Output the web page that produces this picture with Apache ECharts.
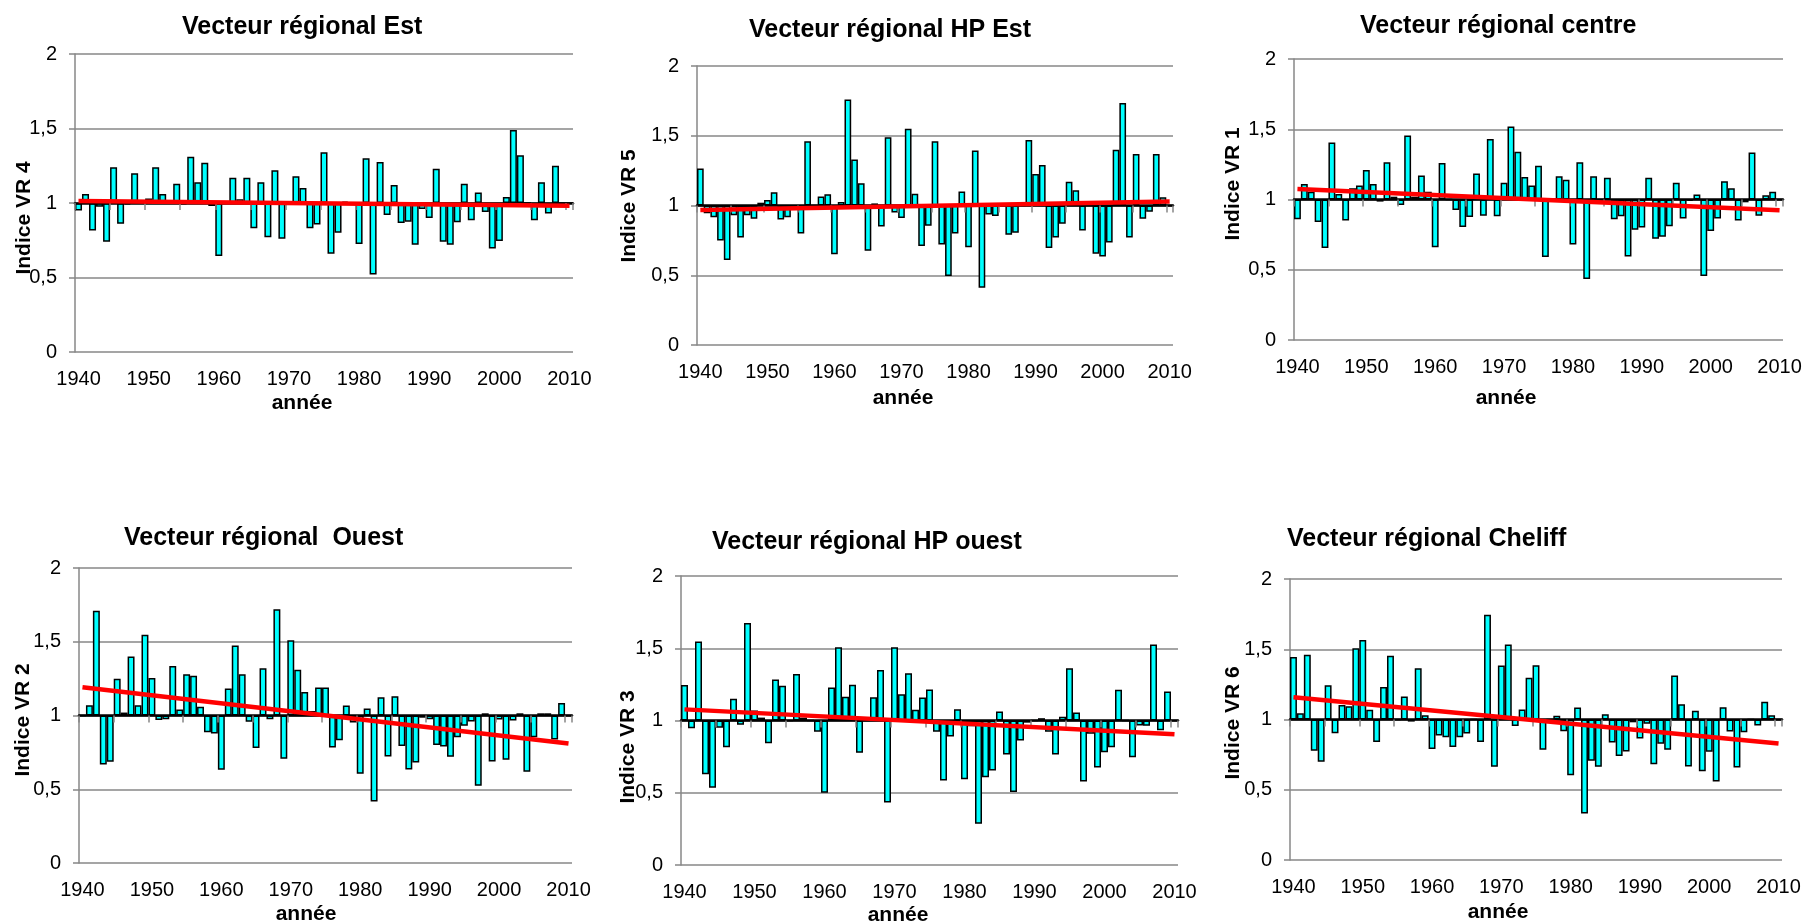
<!DOCTYPE html>
<html>
<head>
<meta charset="utf-8">
<script src="https://cdn.jsdelivr.net/npm/echarts@6/dist/echarts.min.js"></script>
<style>
html,body{margin:0;padding:0;background:#fff;}
#chart{width:1807px;height:922px;}
</style>
</head>
<body>
<div id="chart"></div>
<script>
// ---- data ----
const years = ['1940','1941','1942','1943','1944','1945','1946','1947','1948','1949',
 '1950','1951','1952','1953','1954','1955','1956','1957','1958','1959',
 '1960','1961','1962','1963','1964','1965','1966','1967','1968','1969',
 '1970','1971','1972','1973','1974','1975','1976','1977','1978','1979',
 '1980','1981','1982','1983','1984','1985','1986','1987','1988','1989',
 '1990','1991','1992','1993','1994','1995','1996','1997','1998','1999',
 '2000','2001','2002','2003','2004','2005','2006','2007','2008','2009','2010'];

const yTickValues = [0, 0.5, 1, 1.5, 2];

const vrEst = [0.95,1.06,0.815,0.975,0.74,1.24,0.86,0.99,1.20,1.0,
 1.03,1.24,1.06,1.0,1.13,0.99,1.31,1.14,1.27,0.98,
 0.645,1.0,1.17,1.025,1.17,0.83,1.14,0.77,1.22,0.76,
 1.0,1.18,1.10,0.83,0.855,1.34,0.66,0.80,1.01,1.0,
 0.725,1.30,0.52,1.275,0.92,1.12,0.865,0.875,0.72,0.96,
 0.90,1.23,0.74,0.72,0.87,1.13,0.885,1.07,0.94,0.695,
 0.745,1.04,1.49,1.32,1.0,0.885,1.14,0.93,1.25,1.0,1.0];

const vrHPEst = [1.265,0.945,0.915,0.75,0.61,0.93,0.77,0.93,0.905,1.02,
 1.04,1.095,0.90,0.915,0.99,0.80,1.46,1.0,1.065,1.08,
 0.65,1.025,1.76,1.33,1.16,0.675,1.015,0.85,1.49,0.95,
 0.91,1.55,1.085,0.71,0.855,1.46,0.72,0.495,0.80,1.10,
 0.70,1.395,0.41,0.935,0.925,1.0,0.79,0.805,1.0,1.47,
 1.225,1.29,0.695,0.77,0.87,1.17,1.11,0.82,1.0,0.655,
 0.635,0.735,1.40,1.735,0.77,1.37,0.905,0.955,1.37,1.06,1.0];

const vrCentre = [0.86,1.11,1.055,0.84,0.655,1.405,1.04,0.85,1.08,1.10,
 1.21,1.11,0.985,1.265,1.02,0.96,1.455,1.02,1.17,1.055,
 0.66,1.26,1.0,0.925,0.805,0.875,1.185,0.885,1.43,0.88,
 1.12,1.52,1.34,1.16,1.10,1.24,0.59,1.0,1.165,1.14,
 0.68,1.265,0.435,1.165,1.0,1.155,0.86,0.88,0.595,0.785,
 0.80,1.155,0.72,0.735,0.81,1.12,0.865,0.99,1.035,0.455,
 0.775,0.865,1.13,1.08,0.85,0.98,1.335,0.885,1.03,1.055,1.0];

const vrOuest = [1.0,1.07,1.71,0.668,0.686,1.25,1.02,1.40,1.07,1.547,
 1.255,0.97,0.975,1.335,1.04,1.28,1.27,1.06,0.887,0.878,
 0.632,1.183,1.475,1.28,0.957,0.78,1.32,0.975,1.72,0.706,
 1.51,1.31,1.16,1.03,1.19,1.19,0.783,0.833,1.068,0.953,
 0.605,1.047,0.417,1.124,0.722,1.131,0.794,0.634,0.681,0.985,
 0.975,0.80,0.79,0.72,0.853,0.93,0.96,0.523,1.015,0.688,
 0.973,0.70,0.966,1.015,0.618,0.853,1.015,1.015,0.837,1.084,1.0];

const vrHPOuest = [1.245,0.946,1.547,0.628,0.535,0.95,0.815,1.15,0.97,1.675,
 1.07,1.02,0.843,1.283,1.24,1.0,1.322,1.02,1.0,0.923,
 0.50,1.229,1.507,1.164,1.248,0.776,1.0,1.161,1.35,0.432,
 1.507,1.182,1.327,1.075,1.159,1.215,0.923,0.584,0.89,1.077,
 0.593,0.96,0.285,0.607,0.654,1.063,0.764,0.505,0.862,0.985,
 1.0,1.016,0.923,0.764,1.026,1.362,1.056,0.577,0.909,0.675,
 0.78,0.815,1.213,1.0,0.745,0.965,0.963,1.526,0.932,1.20,1.0];

const vrCheliff = [1.444,1.045,1.46,0.777,0.70,1.244,0.903,1.104,1.095,1.508,
 1.565,1.069,0.839,1.232,1.453,1.0,1.164,0.985,1.365,1.03,
 0.79,0.886,0.874,0.805,0.874,0.90,1.0,0.84,1.745,0.663,
 1.384,1.534,0.953,1.071,1.297,1.387,0.784,1.0,1.026,0.917,
 0.604,1.085,0.331,0.706,0.663,1.038,0.836,0.741,0.772,0.98,
 0.865,0.97,0.682,0.827,0.784,1.313,1.109,0.665,1.062,0.632,
 0.77,0.559,1.088,0.915,0.658,0.91,1.0,0.957,1.126,1.03,1.0];

// linear trend lines: value at 1940 and at 2010
const trendEst = [1.013, 0.982];
const trendHPEst = [0.967, 1.029];
const trendCentre = [1.074, 0.924];
const trendOuest = [1.192, 0.81];
const trendHPOuest = [1.077, 0.904];
const trendCheliff = [1.159, 0.829];

const titles = ['Vecteur régional Est','Vecteur régional HP Est','Vecteur régional centre',
  'Vecteur régional  Ouest','Vecteur régional HP ouest','Vecteur régional Cheliff'];
const yNames = ['Indice VR 4','Indice VR 5','Indice VR 1','Indice VR 2','Indice VR 3','Indice VR 6'];
const xName = 'année';

const seriesValues = [vrEst, vrHPEst, vrCentre, vrOuest, vrHPOuest, vrCheliff];
const trends = [trendEst, trendHPEst, trendCentre, trendOuest, trendHPOuest, trendCheliff];

// ---- layout ----
const gridsLayout = [
  {left:75, top:54, width:498, height:298},
  {left:697, top:66, width:476, height:279},
  {left:1294, top:59, width:489, height:281},
  {left:79, top:568, width:493, height:295},
  {left:681, top:576, width:497, height:289},
  {left:1290, top:579, width:492, height:281}
];
const titlePos = [[182,27],[749,30],[1360,26],[124,538],[712,542],[1287,539]];
const yNamePos = [[24,218],[629,206],[1233,184],[23,720],[628,747],[1233,723]];
const xNamePos = [[302,403],[903,398],[1506,398],[306,914],[898,915],[1498,912]];

const FONT = '"Liberation Sans", Arial, sans-serif';
const GREY = '#878787';
const BASE = 1; // bars start from index value 1

const fmt = v => String(Math.round((v + BASE) * 10) / 10).replace('.', ',');

const option = {
  animation: false,
  backgroundColor: '#ffffff',
  grid: [], xAxis: [], yAxis: [], series: [], graphic: []
};

for (let g = 0; g < 6; g++) {
  option.grid.push(Object.assign({containLabel: false}, gridsLayout[g]));
  // axis crossing at 1 (black line + ticks)
  option.xAxis.push({
    type: 'category', gridIndex: g, data: years, boundaryGap: true, z: 5,
    axisLine: {show: true, onZero: true, lineStyle: {color: '#000', width: 2.5}},
    axisTick: {show: true, interval: 4, alignWithLabel: false, length: 7, lineStyle: {color: GREY, width: 1.5}},
    axisLabel: {show: false}, splitLine: {show: false}
  });
  // label axis at bottom
  option.xAxis.push({
    type: 'category', gridIndex: g, data: years, boundaryGap: true, position: 'bottom',
    axisLine: {show: false, onZero: false}, axisTick: {show: false},
    axisLabel: {show: true, interval: 9, margin: 17, color: '#000', fontSize: 20, fontFamily: FONT},
    splitLine: {show: false}
  });
  option.yAxis.push({
    type: 'value', gridIndex: g, min: yTickValues[0] - BASE, max: yTickValues[yTickValues.length-1] - BASE, interval: 0.5,
    axisLine: {show: true, lineStyle: {color: GREY, width: 1.5}},
    axisTick: {show: true, length: 6, lineStyle: {color: GREY, width: 1.5}},
    axisLabel: {show: true, margin: 18, color: '#000', fontSize: 20, fontFamily: FONT, formatter: fmt},
    splitLine: {show: true, lineStyle: {color: GREY, width: 1.5}}
  });
  option.series.push({
    type: 'bar', xAxisIndex: 2*g, yAxisIndex: g, barCategoryGap: '0%', z: 2,
    data: seriesValues[g].map(v => +(v - BASE).toFixed(4)),
    itemStyle: {color: '#00FFFF', borderColor: '#000', borderWidth: 1.5}
  });
  option.series.push({
    type: 'line', xAxisIndex: 2*g, yAxisIndex: g, z: 10, symbol: 'none', silent: true,
    data: [[years[0], trends[g][0] - BASE], [years[years.length-1], trends[g][1] - BASE]],
    lineStyle: {color: '#FF0000', width: 4.5}
  });
  option.graphic.push({
    type: 'text', x: titlePos[g][0], y: titlePos[g][1],
    style: {text: titles[g], fill: '#000', fontSize: 25, fontWeight: 'bold', fontFamily: FONT, align: 'left', verticalAlign: 'middle'}
  });
  option.graphic.push({
    type: 'text', x: yNamePos[g][0], y: yNamePos[g][1], rotation: Math.PI / 2,
    style: {text: yNames[g], fill: '#000', fontSize: 21, fontWeight: 'bold', fontFamily: FONT, align: 'center', verticalAlign: 'middle'}
  });
  option.graphic.push({
    type: 'text', x: xNamePos[g][0], y: xNamePos[g][1],
    style: {text: xName, fill: '#000', fontSize: 21, fontWeight: 'bold', fontFamily: FONT, align: 'center', verticalAlign: 'middle'}
  });
}

const chart = echarts.init(document.getElementById('chart'), null, {renderer: 'canvas'});
chart.setOption(option);
</script>
</body>
</html>
